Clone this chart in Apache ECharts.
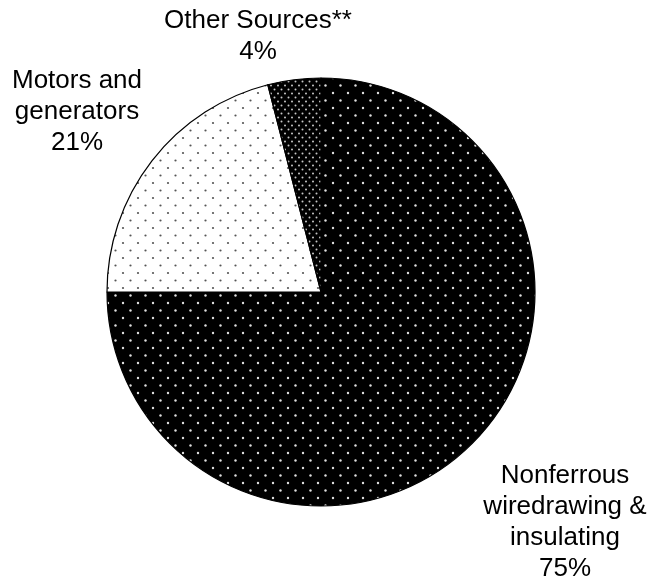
<!DOCTYPE html>
<html>
<head>
<meta charset="utf-8">
<script src="https://cdn.jsdelivr.net/npm/echarts@6/dist/echarts.min.js"></script>
<style>html,body{margin:0;padding:0;background:#fff}#chart{width:650px;height:585px}</style>
</head>
<body>
<div id="chart"></div>
<script>
const categories = ['Nonferrous\nwiredrawing &\ninsulating', 'Motors and\ngenerators', 'Other Sources**'];
const values = [75, 21, 4];
const percentLabels = ['75%', '21%', '4%'];

function makePattern(size, bg, dotColor, r, pts) {
  const c = document.createElement('canvas');
  c.width = size[0]; c.height = size[1];
  const ctx = c.getContext('2d');
  ctx.fillStyle = bg; ctx.fillRect(0, 0, size[0], size[1]);
  ctx.fillStyle = dotColor;
  pts.forEach(p => { ctx.beginPath(); ctx.arc(p[0], p[1], r, 0, Math.PI * 2); ctx.fill(); });
  return c;
}
const patBlack = makePattern([15, 15], '#000', '#e0e0e0', 1.2, [[3, 3], [10.5, 10.5]]);
const patWhite = makePattern([15, 15], '#fff', '#555', 1.1, [[3, 3], [10.5, 10.5]]);
const patOther = makePattern([7, 8], '#000', '#c8c8c8', 1.0, [[1.5, 1.5], [5, 5.5]]);
const patterns = [patBlack, patWhite, patOther];

const labelPos = [[565, 522], [77, 112], [258, 36]];

const chart = echarts.init(document.getElementById('chart'), null, { renderer: 'canvas' });
chart.setOption({
  animation: false,
  series: [{
    type: 'pie',
    center: [321, 292],
    radius: 214,
    startAngle: 90,
    clockwise: true,
    silent: true,
    data: categories.map((n, i) => ({
      name: n,
      value: values[i],
      itemStyle: { color: { image: patterns[i], repeat: 'repeat' } }
    })),
    itemStyle: { borderColor: '#000', borderWidth: 1.2 },
    label: {
      show: true,
      position: 'outside',
      alignTo: 'none',
      overflow: 'none',
      width: 300,
      formatter: p => p.name + '\n' + percentLabels[p.dataIndex],
      fontFamily: 'Liberation Sans, Arial, sans-serif',
      fontSize: 26,
      lineHeight: 31,
      color: '#000',
      align: 'center'
    },
    labelLine: { show: false },
    labelLayout: p => ({
      x: labelPos[p.dataIndex][0],
      y: labelPos[p.dataIndex][1],
      align: 'center',
      verticalAlign: 'middle'
    })
  }]
});
</script>
</body>
</html>
